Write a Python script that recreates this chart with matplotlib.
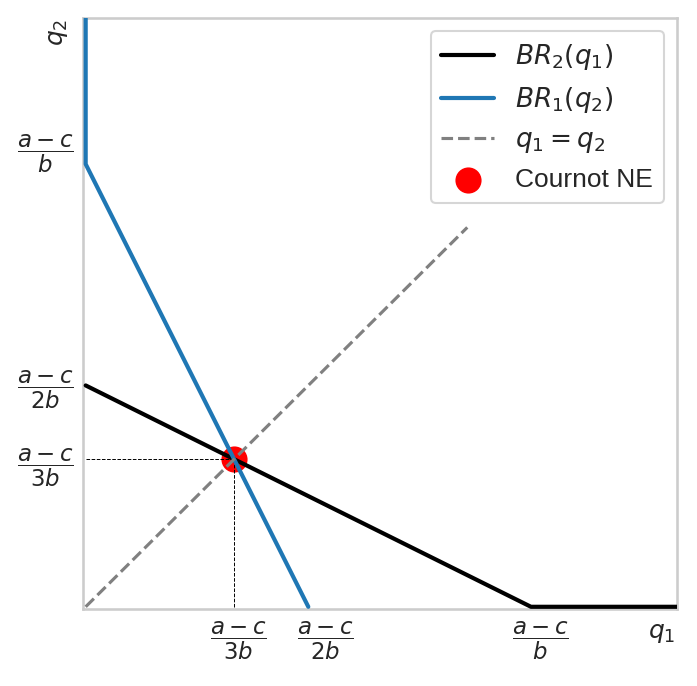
import numpy as np
import matplotlib
matplotlib.use("Agg")
import matplotlib.pyplot as plt
import seaborn as sns

sns.set_theme(style="whitegrid", context="talk")
plt.rcParams['font.family'] = ['Liberation Sans', 'DejaVu Sans']
plt.rcParams['mathtext.fontset'] = 'dejavusans'

# quantities in units of (a-c)/b
br2_q1 = [0.0, 1.0, 1.33]   # BR2(q1): q2 = max(0, (1 - q1)/2)
br2_q2 = [0.5, 0.0, 0.0]
br1_q2 = [0.0, 1.0, 1.33]   # BR1(q2): q1 = max(0, (1 - q2)/2)
br1_q1 = [0.5, 0.0, 0.0]
diag = [0.0, 0.857]
ne = (1/3, 1/3)

# tick positions (slightly off the exact fractions)
xticks = [0.342, 0.538, 1.022]
xticklabels = [r'$\dfrac{a-c}{3b}$', r'$\dfrac{a-c}{2b}$', r'$\dfrac{a-c}{b}$']
yticks = [0.333, 0.51, 1.043]
yticklabels = [r'$\dfrac{a-c}{3b}$', r'$\dfrac{a-c}{2b}$', r'$\dfrac{a-c}{b}$']

fig = plt.figure(figsize=(6.97, 6.86), dpi=100)
ax = fig.add_axes([83/697, 77/686, 594/697, 591/686])

ax.scatter([ne[0]], [ne[1]], s=300, color='red', zorder=1, label='Cournot NE')
ax.plot(br2_q1, br2_q2, color='black', lw=3, label=r'$BR_2(q_1)$', zorder=3)
ax.plot(br1_q1, br1_q2, color='tab:blue', lw=3, label=r'$BR_1(q_2)$', zorder=3)
ax.plot(diag, diag, color='gray', ls='--', lw=2.25, label=r'$q_1 = q_2$', zorder=3)
ax.plot([0, ne[0]], [ne[1], ne[1]], color='black', ls='--', lw=0.7, zorder=2)
ax.plot([ne[0], ne[0]], [0, ne[1]], color='black', ls='--', lw=0.7, zorder=2)

ax.set_xlim(-0.006, 1.328)
ax.set_ylim(-0.005, 1.33)
ax.grid(False)
ax.set_xticks(xticks)
ax.set_xticklabels(xticklabels, fontsize=16.5)
ax.set_yticks(yticks)
ax.set_yticklabels(yticklabels, fontsize=16.5)
ax.tick_params(axis='x', length=0, pad=7.5)
ax.tick_params(axis='y', length=0, pad=6.5)

ax.set_xlabel(r'$q_1$')
ax.set_ylabel(r'$q_2$')
ax.xaxis.set_label_coords(0.975, -0.02)
ax.yaxis.set_label_coords(-0.022, 0.975)

handles, labels = ax.get_legend_handles_labels()
order = [1, 2, 3, 0]
ax.legend([handles[i] for i in order], [labels[i] for i in order],
          loc='upper right', fontsize=19)

fig.savefig('out.png', dpi=100)
